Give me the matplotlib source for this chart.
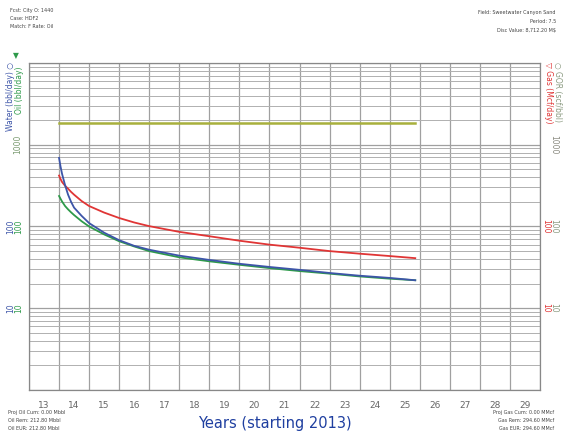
import numpy as np
import matplotlib
matplotlib.use('Agg')
import matplotlib.pyplot as plt
from matplotlib.ticker import LogLocator, NullFormatter
import matplotlib.transforms as mtransforms

# Data (years after 2000, rates per day)
years = [14.0, 14.05, 14.1, 14.2, 14.3, 14.4, 14.5, 14.75, 15.0, 15.5, 16.0, 16.5, 17.0, 18.0,
         19.0, 20.0, 21.0, 22.0, 23.0, 24.0, 25.0, 25.85]
water = [690, 540, 440, 320, 245, 200, 170, 135, 110, 84, 68, 58, 52, 44,
         39, 35, 32, 29.5, 27, 25, 23.5, 22]
oil = [236, 218, 202, 178, 162, 149, 138, 116, 100, 80, 66, 57, 50, 42,
       37.5, 34, 31, 28.5, 26.5, 24.5, 23, 22]
gas = [420, 380, 350, 315, 290, 265, 245, 205, 178, 148, 127, 112, 101, 86,
       76, 67, 60, 55, 50, 46.5, 43.5, 41]
gor_years = [14.0, 25.85]
gor = [1850, 1850]

year_labels = [str(y) for y in range(13, 30)]

blue = '#3d55a8'
green = '#2e9a4a'
red = '#e03535'
olive = '#a8b03c'
gray = '#666666'

fig = plt.figure(figsize=(5.64, 4.36), dpi=100)
ax = fig.add_axes([29 / 564, 1 - 390 / 436, (540 - 29) / 564, (390 - 63) / 436])

ax.plot(years, gas, color=red, lw=1.3)
ax.plot(years, oil, color=green, lw=1.3)
ax.plot(years, water, color=blue, lw=1.3)
ax.plot(gor_years, gor, color=olive, lw=1.8)

ax.set_yscale('log')
ax.set_ylim(1, 1e4)
ax.set_xlim(13, 30)

# grid: year boundaries and log decades with minor lines
ax.set_xticks(range(13, 31))
ax.set_xticklabels([])
ax.set_xticks(np.arange(13.5, 30, 1), minor=True)
ax.set_xticklabels(year_labels, minor=True, fontsize=6.5, color=gray)
ax.tick_params(axis='x', which='both', length=0)
ax.tick_params(axis='x', which='minor', pad=8)
ax.yaxis.set_major_locator(LogLocator(base=10, numticks=10))
ax.yaxis.set_minor_locator(LogLocator(base=10, subs=np.arange(2, 10), numticks=50))
ax.yaxis.set_major_formatter(NullFormatter())
ax.yaxis.set_minor_formatter(NullFormatter())
ax.tick_params(axis='y', which='both', length=0)
ax.grid(True, which='major', color='#a0a0a0', lw=0.9)
ax.grid(True, which='minor', axis='y', color='#b0b0b0', lw=0.7)
for s in ax.spines.values():
    s.set_color('#888888')
    s.set_linewidth(0.9)

# rotated y tick labels on both sides
trans = mtransforms.blended_transform_factory(fig.transFigure, ax.transData)
lx_blue, lx_green = 11 / 564, 19 / 564
rx_red, rx_gray = 546 / 564, 554 / 564
ax.text(18 / 564, 1000, '1000', transform=trans, rotation=90, fontsize=5.5,
        color='#7a9a70', ha='center', va='center')
ax.text(rx_gray, 1000, '1000', transform=trans, rotation=270, fontsize=5.5,
        color='#8a8a80', ha='center', va='center')
for val in [100, 10]:
    ax.text(lx_blue, val, str(val), transform=trans, rotation=90, fontsize=5.5,
            color=blue, ha='center', va='center')
    ax.text(lx_green, val, str(val), transform=trans, rotation=90, fontsize=5.5,
            color=green, ha='center', va='center')
    ax.text(rx_red, val, str(val), transform=trans, rotation=270, fontsize=5.5,
            color=red, ha='center', va='center')
    ax.text(rx_gray, val, str(val), transform=trans, rotation=270, fontsize=5.5,
            color='#8a9a80', ha='center', va='center')

# axis titles
fig.text(11 / 564, 1 - 62 / 436, 'Water (bbl/day) ○', rotation=90, fontsize=5.5,
         color=blue, ha='center', va='top')
fig.text(19 / 564, 1 - 66 / 436, 'Oil (bbl/day)', rotation=90, fontsize=5.5,
         color=green, ha='center', va='top')
fig.text(16 / 564, 1 - 56 / 436, '▼', fontsize=5.5, color=green, ha='center', va='center')
fig.text(549 / 564, 1 - 62 / 436, '▽ Gas (Mcf/day)', rotation=270, fontsize=5.5,
         color=red, ha='center', va='top')
fig.text(557 / 564, 1 - 62 / 436, '○ GOR (scf/bbl)', rotation=270, fontsize=5.5,
         color='#8a9a80', ha='center', va='top')

# header / footer notes
hdr = dict(fontsize=3.5, color='#444444')
fig.text(10 / 564, 1 - 12 / 436, 'Fcst: City O: 1440', **hdr)
fig.text(10 / 564, 1 - 20 / 436, 'Case: HDF2', **hdr)
fig.text(10 / 564, 1 - 28 / 436, 'Match: F Rate: Oil', **hdr)
fig.text(556 / 564, 1 - 14 / 436, 'Field: Sweetwater Canyon Sand', ha='right', **hdr)
fig.text(556 / 564, 1 - 23 / 436, 'Period: 7.5', ha='right', **hdr)
fig.text(556 / 564, 1 - 32 / 436, 'Disc Value: 8,712.20 M$', ha='right', **hdr)
fig.text(8 / 564, 1 - 414 / 436, 'Proj Oil Cum: 0.00 Mbbl', **hdr)
fig.text(8 / 564, 1 - 422 / 436, 'Oil Rem: 212.80 Mbbl', **hdr)
fig.text(8 / 564, 1 - 430 / 436, 'Oil EUR: 212.80 Mbbl', **hdr)
fig.text(554 / 564, 1 - 414 / 436, 'Proj Gas Cum: 0.00 MMcf', ha='right', **hdr)
fig.text(554 / 564, 1 - 422 / 436, 'Gas Rem: 294.60 MMcf', ha='right', **hdr)
fig.text(554 / 564, 1 - 430 / 436, 'Gas EUR: 294.60 MMcf', ha='right', **hdr)

fig.text(275 / 564, 1 - 423 / 436, 'Years (starting 2013)', fontsize=10.5,
         color='#1f3fa0', ha='center', va='center')

fig.savefig('out.png', dpi=100)
